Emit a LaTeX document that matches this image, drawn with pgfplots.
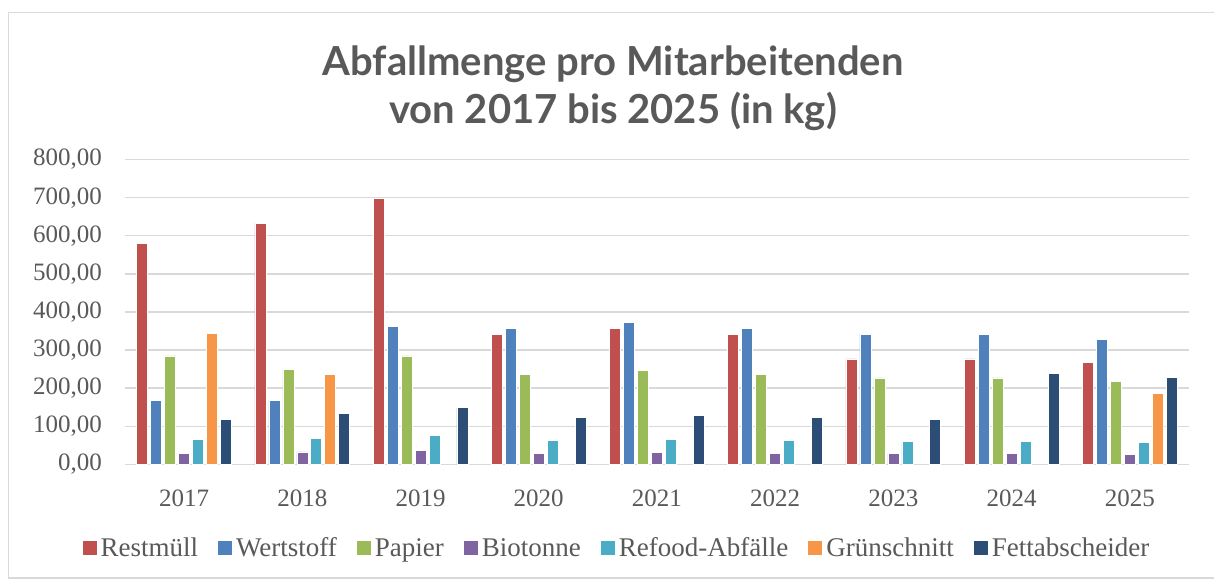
\documentclass[border=0pt]{standalone}
\usepackage{fontspec}
\setmainfont{Liberation Serif}
\newfontfamily\titlefont{Lato}
\usepackage{pgfplots}
\pgfplotsset{compat=1.18}
\definecolor{cRest}{HTML}{C0504D}
\definecolor{cWert}{HTML}{4F81BD}
\definecolor{cPap}{HTML}{9BBB59}
\definecolor{cBio}{HTML}{8064A2}
\definecolor{cRef}{HTML}{4BACC6}
\definecolor{cGruen}{HTML}{F79646}
\definecolor{cFett}{HTML}{2C4D75}
\definecolor{txt}{HTML}{595959}
\definecolor{gridc}{HTML}{D9D9D9}
\begin{document}
\begin{tikzpicture}
\useasboundingbox (0,0) rectangle (1214bp,581bp);
\draw[gridc, line width=1.5bp] (8.5bp,3bp) rectangle (1220bp,568.5bp);
\node[anchor=base, text=txt, align=center, font=\titlefont\bfseries\fontsize{40bp}{48bp}\selectfont] at (613bp,505bp) {Abfallmenge pro Mitarbeitenden};
\node[anchor=base, text=txt, align=center, font=\titlefont\bfseries\fontsize{40bp}{48bp}\selectfont] at (613bp,457bp) {von 2017 bis 2025 (in kg)};
\begin{axis}[
  at={(125bp,116.5bp)}, anchor=south west,
  scale only axis, width=1064bp, height=305bp,
  xmin=-0.5, xmax=8.5, ymin=0, ymax=800,
  ytick={0,100,...,800},
  xtick={0,...,8},
  xticklabels={2017,2018,2019,2020,2021,2022,2023,2024,2025},
  axis line style={draw=none},
  major tick length=0pt,
  xmajorgrids=false,
  ymajorgrids=true,
  major grid style={draw=gridc, line width=1.5bp},
  yticklabel style={inner sep=0pt, xshift=-23bp, text=txt, font=\fontsize{25bp}{30bp}\selectfont},
  xticklabel style={inner sep=0pt, yshift=-25bp, text=txt, font=\fontsize{25bp}{30bp}\selectfont},
  /pgf/number format/.cd, assume math mode=true, use comma, fixed, fixed zerofill, precision=2, 1000 sep={},
  /pgfplots/.cd,
  ybar, bar width=0.093,
  every axis plot/.append style={draw=white, line width=0.6bp},
  legend columns=7,
  legend style={draw=none, at={(0.4633,-0.2738)}, anchor=center,
    font=\fontsize{27bp}{32bp}\selectfont, text=txt,
    /tikz/every even column/.append style={column sep=16bp},
    /tikz/every odd column/.append style={column sep=0bp},
    /tikz/nodes={inner xsep=4bp, inner ysep=0bp}},
  legend image code/.code={\fill[#1, draw=none] (0bp,-7bp) rectangle (14bp,7bp);},
]
\addplot[fill=cRest, bar shift=-0.3546] coordinates {(0,580) (1,633) (2,697) (3,341) (4,357) (5,341) (6,277) (7,277) (8,267)};
\addplot[fill=cWert, bar shift=-0.2364] coordinates {(0,169) (1,169) (2,363) (3,356) (4,372) (5,356) (6,342) (7,342) (8,329)};
\addplot[fill=cPap, bar shift=-0.1182] coordinates {(0,285) (1,249) (2,285) (3,237) (4,247) (5,237) (6,227) (7,227) (8,219)};
\addplot[fill=cBio, bar shift=0] coordinates {(0,30) (1,33) (2,37) (3,30) (4,32) (5,30) (6,29) (7,29) (8,27)};
\addplot[fill=cRef, bar shift=0.1182] coordinates {(0,66) (1,69) (2,76) (3,63) (4,66) (5,63) (6,60) (7,60) (8,58)};
\addplot[fill=cGruen, bar shift=0.2364] coordinates {(0,343) (1,237) (8,187)};
\addplot[fill=cFett, bar shift=0.3546] coordinates {(0,119) (1,135) (2,149) (3,123) (4,129) (5,123) (6,119) (7,238) (8,229)};
\legend{Restmüll,Wertstoff,Papier,Biotonne,Refood-Abfälle,Grünschnitt,Fettabscheider}
\end{axis}
\end{tikzpicture}
\end{document}
